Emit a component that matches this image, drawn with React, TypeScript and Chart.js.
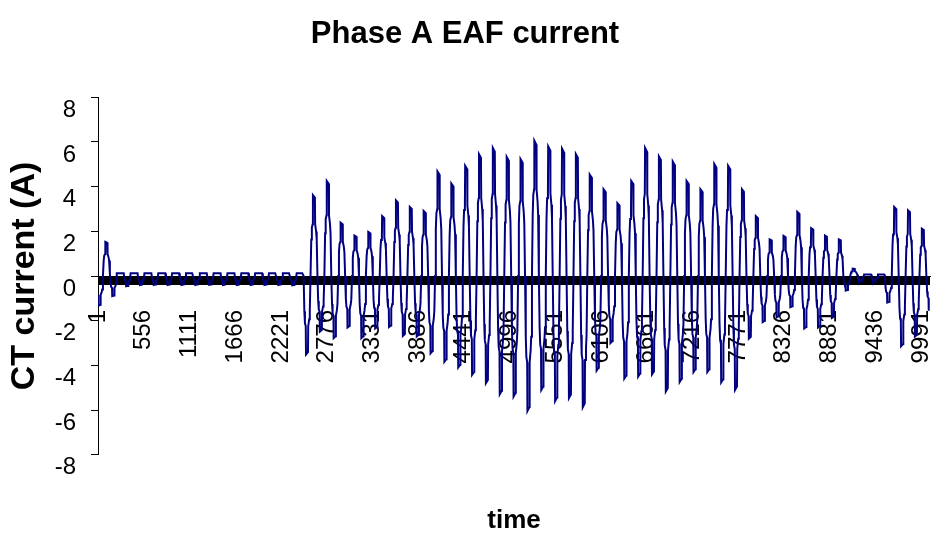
import React, { useEffect, useRef } from 'react';
import { Chart, registerables } from 'chart.js';

Chart.register(...registerables);

// ---- Data ----
const TITLE = 'Phase A EAF current';
const Y_TITLE = 'CT current (A)';
const X_TITLE = 'time';

// x tick labels (sample index)
const X_TICK_LABELS = [1, 556, 1111, 1666, 2221, 2776, 3331, 3886, 4441, 4996, 5551, 6106, 6661, 7216, 7771, 8326, 8881, 9436, 9991];
const Y_TICKS = [-8, -6, -4, -2, 0, 2, 4, 6, 8];

// one entry per mains cycle: negative-half peak, positive-half peak and resting level (A)
const NEG_PEAKS = [
  -1.33, -0.9, -0.46, -0.4, -0.4, -0.4, -0.4, -0.4, -0.4, -0.4, -0.4, -0.4, -0.4, -0.4, -0.42,
  -3.51, -2.49, -2.78, -2.30, -2.78, -2.35, -2.28, -2.68, -2.71, -3.46,
  -3.84, -4.09, -4.42, -4.8, -5.29, -5.39, -6.04, -5.10, -5.6, -5.46,
  -5.87, -4.23, -3.0, -4.59, -4.5, -4.4, -5.17, -4.74, -4.3, -4.30,
  -4.76, -5.10, -2.8, -2.06, -1.85, -1.40, -2.35, -2.30, -1.88, -0.65,
  -0.25, -0.25, -1.19, -3.14, -2.71, -1.55,
];
const POS_PEAKS = [
  1.53, 0.12, 0.12, 0.12, 0.12, 0.12, 0.12, 0.12, 0.12, 0.12, 0.12, 0.12, 0.12, 0.12, 0.12,
  3.62, 4.25, 2.39, 1.81, 1.97, 2.68, 3.38, 3.09, 2.91, 4.68,
  4.14, 4.93, 5.45, 5.73, 5.33, 5.23, 6.06, 5.80, 5.70, 5.45,
  4.54, 3.88, 3.26, 4.25, 5.73, 5.35, 5.12, 4.25, 3.88, 5.01,
  4.93, 3.88, 2.68, 1.64, 1.80, 2.87, 2.14, 1.81, 1.64, 0.33,
  0.07, 0.07, 3.09, 2.94, 2.12, 0,
];
const REST_LEVEL = [
  0, 0.12, 0.12, 0.12, 0.12, 0.12, 0.12, 0.12, 0.12, 0.12, 0.12, 0.12, 0.12, 0.12, 0.12,
  0, 0, 0, 0, 0, 0, 0, 0, 0, 0,
  0, 0, 0, 0, 0, 0, 0, 0, 0, 0,
  0, 0, 0, 0, 0, 0, 0, 0, 0, 0,
  0, 0, 0, 0, 0, 0, 0, 0, 0, 0,
  0.07, 0.07, 0, 0, 0, 0,
];

const CYCLE_SAMPLES = 168;
const FIRST_CYCLE_START = -24;
const FIRST_SAMPLE = 1;
const LAST_SAMPLE = 10090;
const X_MAX = 10100;

// stepped half-wave outline (sample offset inside a half cycle, fraction of peak)
const HALF_OFFSETS = [0, 9, 16, 26, 29, 53, 56, 68, 75];
const HALF_FRACTIONS = [0, 0.45, 0.6, 0.64, 1, 0.97, 0.64, 0.55, 0.45];

function buildWave() {
  const pts: { x: number; y: number }[] = [];
  const half = CYCLE_SAMPLES / 2;
  for (let k = 0; k < NEG_PEAKS.length; k++) {
    const start = FIRST_CYCLE_START + k * CYCLE_SAMPLES;
    const base = REST_LEVEL[k];
    for (let j = 0; j < HALF_OFFSETS.length; j++) {
      pts.push({ x: start + HALF_OFFSETS[j], y: base + (NEG_PEAKS[k] - base) * HALF_FRACTIONS[j] });
    }
    for (let j = 0; j < HALF_OFFSETS.length; j++) {
      pts.push({ x: start + half + HALF_OFFSETS[j], y: base + (POS_PEAKS[k] - base) * HALF_FRACTIONS[j] });
    }
  }
  return pts.filter((p) => p.x >= FIRST_SAMPLE && p.x <= LAST_SAMPLE);
}

const FONT = "'Liberation Sans', Arial, Helvetica, sans-serif";

export default function App() {
  const ref = useRef<HTMLCanvasElement | null>(null);

  useEffect(() => {
    if (!ref.current) return;
    const labelSet = new Set(X_TICK_LABELS);
    const chart = new Chart(ref.current, {
      type: 'line',
      data: {
        datasets: [
          {
            data: buildWave(),
            borderColor: '#000080',
            borderWidth: 2,
            pointRadius: 0,
            tension: 0,
            fill: false,
          },
        ],
      },
      options: {
        animation: false,
        responsive: false,
        layout: { padding: { left: 0, right: 5, top: 0, bottom: 0 } },
        plugins: {
          legend: { display: false },
          tooltip: { enabled: false },
          title: {
            display: true,
            text: TITLE,
            color: '#000',
            font: { family: FONT, size: 31, weight: 'bold' },
            padding: { top: 16, bottom: 44 },
          },
        },
        scales: {
          x: {
            type: 'linear',
            position: { y: 0 },
            min: 0,
            max: X_MAX,
            z: 1,
            afterBuildTicks: (axis: any) => {
              const vals: number[] = [];
              for (let v = 0; v <= X_MAX; v += 6) vals.push(v);
              X_TICK_LABELS.forEach((v) => vals.push(v));
              vals.sort((a, b) => a - b);
              axis.ticks = vals.map((v) => ({ value: v }));
            },
            afterFit: (axis: any) => {
              axis.paddingLeft = 0;
              axis.paddingRight = 0;
            },
            ticks: {
              autoSkip: false,
              minRotation: 90,
              maxRotation: 90,
              padding: 26,
              color: '#000',
              font: { family: FONT, size: 24 },
              callback: (v: any) => (labelSet.has(v) ? String(v) : ''),
            },
            grid: {
              display: true,
              drawOnChartArea: false,
              drawTicks: true,
              tickLength: 8,
              tickColor: '#000',
              tickWidth: 1,
            },
            border: { display: true, color: '#000', width: 1 },
          },
          xTitle: {
            type: 'linear',
            position: 'bottom',
            min: 0,
            max: X_MAX,
            ticks: { display: false },
            grid: { display: false },
            border: { display: false },
            title: {
              display: true,
              text: X_TITLE,
              color: '#000',
              font: { family: FONT, size: 26, weight: 'bold' },
              padding: { top: 42, bottom: 0 },
            },
          },
          y: {
            type: 'linear',
            position: 'left',
            min: -8,
            max: 8,
            afterBuildTicks: (axis: any) => {
              axis.ticks = Y_TICKS.map((v) => ({ value: v }));
            },
            afterFit: (axis: any) => {
              axis.width = 98;
            },
            ticks: {
              padding: 15,
              labelOffset: 13,
              color: '#000',
              font: { family: FONT, size: 24 },
            },
            grid: {
              display: true,
              drawOnChartArea: false,
              drawTicks: true,
              tickLength: 7,
              tickColor: '#000',
            },
            border: { display: true, color: '#000', width: 1 },
            title: {
              display: true,
              text: Y_TITLE,
              color: '#000',
              font: { family: FONT, size: 34, weight: 'bold' },
              padding: { top: 4, bottom: 0 },
            },
          },
        },
      } as any,
    });
    return () => chart.destroy();
  }, []);

  return (
    <div style={{ position: 'fixed', left: 0, top: 0, width: 935, height: 536, background: '#fff' }}>
      <canvas ref={ref} width={935} height={536} style={{ display: 'block' }} />
    </div>
  );
}
